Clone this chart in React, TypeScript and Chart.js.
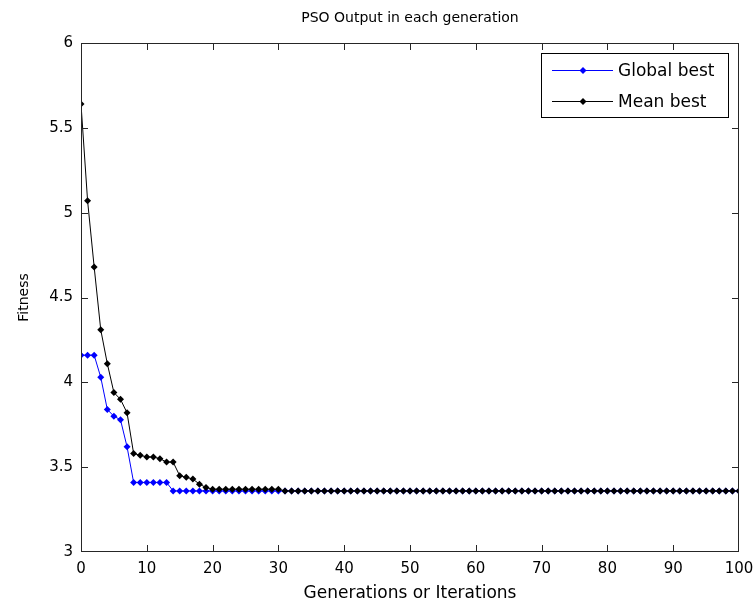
import React, { useEffect, useRef } from "react";
import { Chart, registerables } from "chart.js";

Chart.register(...registerables);

const TITLE = "PSO Output in each generation";
const X_LABEL = "Generations or Iterations";
const Y_LABEL = "Fitness";
const SERIES_NAMES = ["Global best", "Mean best"];
const SERIES_COLORS = ["#0000ff", "#000000"];

const GENERATIONS = [
  0, 1, 2, 3, 4, 5, 6, 7, 8, 9, 10, 11, 12, 13, 14, 15, 16, 17, 18, 19, 20,
  21, 22, 23, 24, 25, 26, 27, 28, 29, 30, 31, 32, 33, 34, 35, 36, 37, 38, 39, 40,
  41, 42, 43, 44, 45, 46, 47, 48, 49, 50, 51, 52, 53, 54, 55, 56, 57, 58, 59, 60,
  61, 62, 63, 64, 65, 66, 67, 68, 69, 70, 71, 72, 73, 74, 75, 76, 77, 78, 79, 80,
  81, 82, 83, 84, 85, 86, 87, 88, 89, 90, 91, 92, 93, 94, 95, 96, 97, 98, 99, 100,
];

const GLOBAL_BEST = [
  4.16, 4.16, 4.16, 4.03, 3.84, 3.8, 3.78, 3.62, 3.41, 3.41, 3.41,
  3.41, 3.41, 3.41, 3.36, 3.36, 3.36, 3.36, 3.36, 3.36, 3.36,
  3.36, 3.36, 3.36, 3.36, 3.36, 3.36, 3.36, 3.36, 3.36, 3.36,
  3.36, 3.36, 3.36, 3.36, 3.36, 3.36, 3.36, 3.36, 3.36, 3.36,
  3.36, 3.36, 3.36, 3.36, 3.36, 3.36, 3.36, 3.36, 3.36, 3.36,
  3.36, 3.36, 3.36, 3.36, 3.36, 3.36, 3.36, 3.36, 3.36, 3.36,
  3.36, 3.36, 3.36, 3.36, 3.36, 3.36, 3.36, 3.36, 3.36, 3.36,
  3.36, 3.36, 3.36, 3.36, 3.36, 3.36, 3.36, 3.36, 3.36, 3.36,
  3.36, 3.36, 3.36, 3.36, 3.36, 3.36, 3.36, 3.36, 3.36, 3.36,
  3.36, 3.36, 3.36, 3.36, 3.36, 3.36, 3.36, 3.36, 3.36, 3.36,
];

const MEAN_BEST = [
  5.64, 5.07, 4.68, 4.31, 4.11, 3.94, 3.9, 3.82, 3.58, 3.57, 3.56,
  3.56, 3.55, 3.53, 3.53, 3.45, 3.44, 3.43, 3.4, 3.38, 3.37,
  3.37, 3.37, 3.37, 3.37, 3.37, 3.37, 3.37, 3.37, 3.37, 3.37,
  3.36, 3.36, 3.36, 3.36, 3.36, 3.36, 3.36, 3.36, 3.36, 3.36,
  3.36, 3.36, 3.36, 3.36, 3.36, 3.36, 3.36, 3.36, 3.36, 3.36,
  3.36, 3.36, 3.36, 3.36, 3.36, 3.36, 3.36, 3.36, 3.36, 3.36,
  3.36, 3.36, 3.36, 3.36, 3.36, 3.36, 3.36, 3.36, 3.36, 3.36,
  3.36, 3.36, 3.36, 3.36, 3.36, 3.36, 3.36, 3.36, 3.36, 3.36,
  3.36, 3.36, 3.36, 3.36, 3.36, 3.36, 3.36, 3.36, 3.36, 3.36,
  3.36, 3.36, 3.36, 3.36, 3.36, 3.36, 3.36, 3.36, 3.36, 3.36,
];

const X_TICKS = [0, 10, 20, 30, 40, 50, 60, 70, 80, 90, 100];
const Y_TICKS = [3, 3.5, 4, 4.5, 5, 5.5, 6];

const FONT = "'DejaVu Sans', 'Liberation Sans', sans-serif";

const framePlugin = {
  id: "matlabFrame",
  afterDatasetsDraw(chart: any) {
    const ctx = chart.ctx;
    const ca = chart.chartArea;
    const xs = chart.scales.x;
    const ys = chart.scales.y;
    const L = Math.round(ca.left);
    const R = Math.round(ca.right) - 1;
    const T = Math.round(ca.top);
    const B = Math.round(ca.bottom) - 1;
    const tick = 7;
    ctx.save();
    ctx.fillStyle = "#262626";
    ctx.fillRect(L, T, R - L + 1, 1);
    ctx.fillRect(L, B, R - L + 1, 1);
    ctx.fillRect(L, T, 1, B - T + 1);
    ctx.fillRect(R, T, 1, B - T + 1);
    X_TICKS.forEach((v) => {
      const px = Math.round(xs.getPixelForValue(v));
      const cx = Math.min(Math.max(px, L), R);
      ctx.fillRect(cx, B - tick + 1, 1, tick);
      ctx.fillRect(cx, T, 1, tick);
    });
    Y_TICKS.forEach((v) => {
      const py = Math.round(ys.getPixelForValue(v));
      const cy = Math.min(Math.max(py, T), B);
      ctx.fillRect(L, cy, tick, 1);
      ctx.fillRect(R - tick + 1, cy, tick, 1);
    });
    ctx.restore();
  },
};

const titlePlugin = {
  id: "matlabTitle",
  afterDraw(chart: any) {
    const ctx = chart.ctx;
    const ca = chart.chartArea;
    ctx.save();
    ctx.fillStyle = "#000000";
    ctx.font = `14px ${FONT}`;
    ctx.textAlign = "center";
    ctx.textBaseline = "middle";
    ctx.fillText(TITLE, (ca.left + ca.right) / 2, 18);
    ctx.restore();
  },
};

const legendPlugin = {
  id: "matlabLegend",
  afterDraw(chart: any) {
    const ctx = chart.ctx;
    const ca = chart.chartArea;
    const right = Math.round(ca.right) - 11;
    const left = right - 187;
    const top = Math.round(ca.top) + 10;
    const h = 64;
    ctx.save();
    ctx.fillStyle = "#ffffff";
    ctx.fillRect(left, top, right - left, h);
    ctx.strokeStyle = "#000000";
    ctx.lineWidth = 1;
    ctx.strokeRect(left + 0.5, top + 0.5, right - left, h);
    const rows = [top + 17, top + 48];
    SERIES_NAMES.forEach((name, i) => {
      const y = rows[i] + 0.5;
      ctx.strokeStyle = SERIES_COLORS[i];
      ctx.beginPath();
      ctx.moveTo(left + 11, y);
      ctx.lineTo(left + 72, y);
      ctx.stroke();
      ctx.fillStyle = SERIES_COLORS[i];
      const mx = left + 42;
      ctx.beginPath();
      ctx.moveTo(mx, y - 3.5);
      ctx.lineTo(mx + 3.5, y);
      ctx.lineTo(mx, y + 3.5);
      ctx.lineTo(mx - 3.5, y);
      ctx.closePath();
      ctx.fill();
      ctx.fillStyle = "#000000";
      ctx.font = `17px ${FONT}`;
      ctx.textAlign = "left";
      ctx.textBaseline = "middle";
      ctx.fillText(name, left + 77, y + 1);
    });
    ctx.restore();
  },
};

export default function App() {
  const canvasRef = useRef<HTMLCanvasElement | null>(null);

  useEffect(() => {
    const canvas = canvasRef.current;
    if (!canvas) return;
    const seriesData = [GLOBAL_BEST, MEAN_BEST];
    const chart = new Chart(canvas, {
      type: "line",
      data: {
        datasets: SERIES_NAMES.map((name, i) => ({
          label: name,
          data: GENERATIONS.map((g, k) => ({ x: g, y: seriesData[i][k] })),
          borderColor: SERIES_COLORS[i],
          backgroundColor: SERIES_COLORS[i],
          borderWidth: 1,
          pointStyle: "rectRot",
          pointRadius: 3.5,
          pointBorderWidth: 0,
          pointBackgroundColor: SERIES_COLORS[i],
          tension: 0,
          fill: false,
          order: i === 0 ? 1 : 0,
        })),
      },
      options: {
        responsive: false,
        animation: false,
        events: [],
        layout: { padding: { left: 0, right: 15, top: 43, bottom: 0 } },
        plugins: {
          legend: { display: false },
          tooltip: { enabled: false },
          title: { display: false },
        },
        scales: {
          x: {
            type: "linear",
            min: 0,
            max: 100,
            afterBuildTicks: (s: any) => {
              s.ticks = X_TICKS.map((v) => ({ value: v }));
            },
            afterFit: (s: any) => {
              s.height = 53;
              s.paddingLeft = 0;
              s.paddingRight = 0;
            },
            grid: { display: false, drawTicks: false },
            border: { display: false },
            ticks: {
              color: "#000000",
              font: { family: FONT, size: 15 },
              padding: 8,
              maxRotation: 0,
              autoSkip: false,
              callback: (v: any) => String(v),
            },
            title: {
              display: true,
              text: X_LABEL,
              color: "#000000",
              font: { family: FONT, size: 17 },
              padding: { top: 0, bottom: 1 },
            },
          },
          y: {
            type: "linear",
            min: 3,
            max: 6,
            afterBuildTicks: (s: any) => {
              s.ticks = Y_TICKS.map((v) => ({ value: v }));
            },
            afterFit: (s: any) => {
              s.width = 81;
              s.paddingTop = 0;
              s.paddingBottom = 0;
            },
            grid: { display: false, drawTicks: false },
            border: { display: false },
            ticks: {
              color: "#000000",
              font: { family: FONT, size: 15 },
              padding: 8,
              autoSkip: false,
              callback: (v: any) => String(v),
            },
            title: {
              display: true,
              text: Y_LABEL,
              color: "#000000",
              font: { family: FONT, size: 14 },
              padding: { top: 16, bottom: 0 },
            },
          },
        },
      },
      plugins: [framePlugin, titlePlugin, legendPlugin],
    });
    return () => chart.destroy();
  }, []);

  return (
    <div style={{ position: "absolute", left: 0, top: 0, width: 754, height: 605, background: "#fff" }}>
      <canvas ref={canvasRef} width={754} height={605} />
    </div>
  );
}
